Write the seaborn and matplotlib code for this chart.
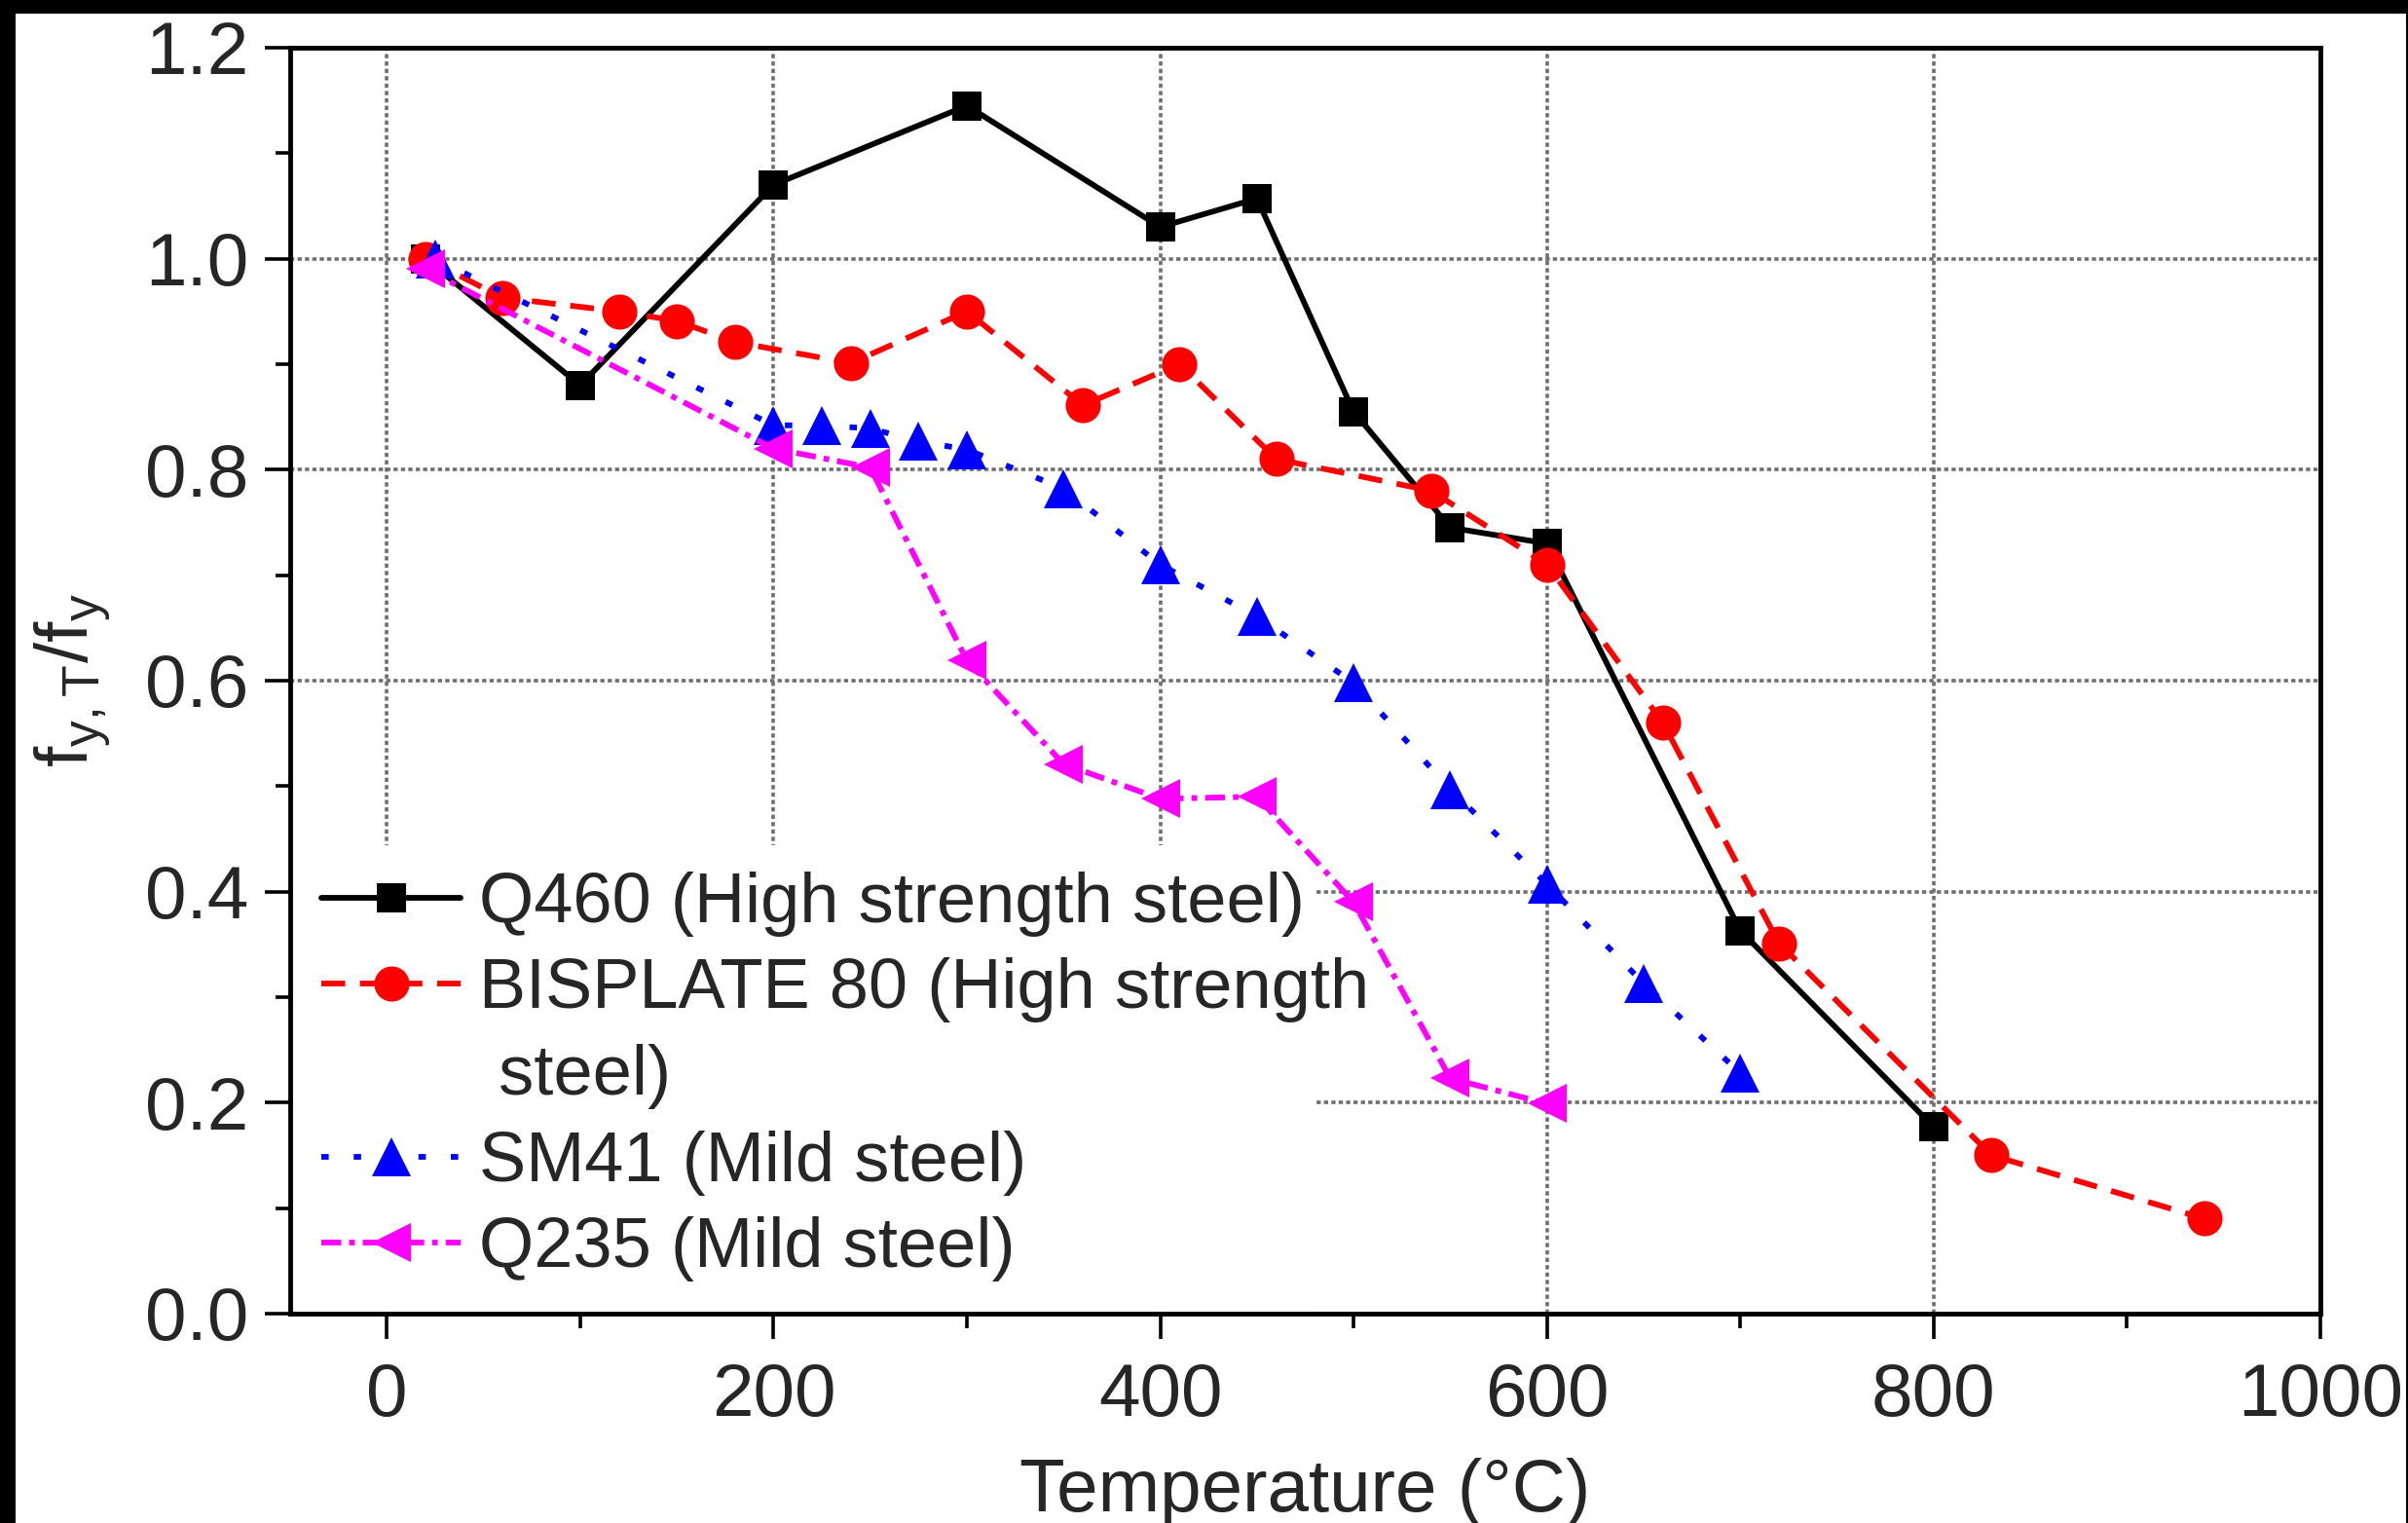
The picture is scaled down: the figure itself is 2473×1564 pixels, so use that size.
import matplotlib
matplotlib.use("Agg")
import matplotlib.pyplot as plt
from matplotlib.patches import Rectangle
from matplotlib.lines import Line2D
from matplotlib.ticker import MultipleLocator, FormatStrFormatter
import seaborn as sns

# Q460 (high strength steel)
temp_q460 = [20, 100, 200, 300, 400, 450, 500, 550, 600, 700, 800]
ratio_q460 = [1.0, 0.88, 1.07, 1.145, 1.03, 1.057, 0.855, 0.745, 0.73, 0.363, 0.177]

# BISPLATE 80 (high strength steel)
temp_bis = [20, 60, 120, 150, 180, 240, 300, 360, 410, 460, 540, 600, 660, 720, 830, 940]
ratio_bis = [1.0, 0.963, 0.95, 0.941, 0.921, 0.901, 0.95, 0.861, 0.90, 0.81, 0.78,
             0.71, 0.56, 0.351, 0.15, 0.09]

# SM41 (mild steel)
temp_sm41 = [25, 200, 225, 250, 275, 300, 350, 400, 450, 500, 550, 600, 650, 700]
ratio_sm41 = [1.0, 0.842, 0.842, 0.839, 0.827, 0.819, 0.782, 0.71, 0.661, 0.598,
              0.497, 0.407, 0.313, 0.228]

# Q235 (mild steel)
temp_q235 = [20, 200, 250, 300, 350, 400, 450, 500, 550, 600]
ratio_q235 = [0.99, 0.82, 0.802, 0.619, 0.521, 0.488, 0.49, 0.39, 0.223, 0.199]

labels = ["Q460 (High strength steel)",
          "BISPLATE 80 (High strength",
          "SM41 (Mild steel)",
          "Q235 (Mild steel)"]
wrap_label = " steel)"

sns.set_style("white")
plt.rcParams["font.family"] = ["Liberation Sans", "DejaVu Sans"]
plt.rcParams["mathtext.fontset"] = "custom"
plt.rcParams["mathtext.rm"] = "Liberation Sans"
plt.rcParams["mathtext.it"] = "Liberation Sans"
plt.rcParams["mathtext.default"] = "regular"

fig, ax = plt.subplots(figsize=(24.73, 15.64), dpi=100)
fig.subplots_adjust(left=0.1205, right=0.9636, bottom=0.1375, top=0.9687)

# black scan border around the picture
fig.patch.set_facecolor("black")
fig.add_artist(Rectangle((16 / 2473, 0), 2455 / 2473, 1550 / 1564,
                         transform=fig.transFigure, facecolor="white",
                         edgecolor="none", zorder=-5))

lw = 4.2
sns.lineplot(x=temp_q460, y=ratio_q460, ax=ax, color="black", marker="s",
             markersize=21, markeredgewidth=0, linewidth=lw, linestyle="-",
             label=labels[0], errorbar=None)
sns.lineplot(x=temp_bis, y=ratio_bis, ax=ax, color="#ff0000", marker="o",
             markersize=26, markeredgewidth=0, linewidth=lw,
             linestyle=(0, (4.2, 2.6)), label=labels[1], errorbar=None)
sns.lineplot(x=temp_sm41, y=ratio_sm41, ax=ax, color="#0000ff", marker="^",
             markersize=29, markeredgewidth=0, linewidth=lw,
             linestyle=(0, (1.3, 4.4)), label=labels[2], errorbar=None)
sns.lineplot(x=temp_q235, y=ratio_q235, ax=ax, color="#ff00ff", marker="<",
             markersize=29, markeredgewidth=0, linewidth=lw,
             linestyle=(0, (3.5, 1.4, 1.0, 1.4)), label=labels[3], errorbar=None)

ax.set_xlim(-50, 1000)
ax.set_ylim(0, 1.2)
ax.xaxis.set_major_locator(MultipleLocator(200))
ax.xaxis.set_minor_locator(MultipleLocator(100))
ax.yaxis.set_major_locator(MultipleLocator(0.2))
ax.yaxis.set_minor_locator(MultipleLocator(0.1))
ax.yaxis.set_major_formatter(FormatStrFormatter("%.1f"))

ax.set_axisbelow(True)
ax.grid(True, which="major", color="#6e6e6e", linewidth=2.6,
        linestyle=(0, (1.2, 0.9)))

for side in ["left", "right", "top", "bottom"]:
    ax.spines[side].set_visible(True)
    ax.spines[side].set_color("black")
    ax.spines[side].set_linewidth(3.5)

ax.tick_params(axis="both", which="major", direction="out", length=19, width=2.6,
               color="black", labelsize=55, bottom=True, left=True,
               top=False, right=False)
ax.tick_params(axis="both", which="minor", direction="out", length=11, width=2.6,
               color="black", bottom=True, left=True, top=False, right=False)
ax.tick_params(axis="x", which="major", pad=17)
ax.tick_params(axis="y", which="major", pad=12)

ax.set_xlabel("Temperature (°C)", fontsize=55)
ax.set_ylabel(r"$f_{y,T}/f_y$", fontsize=55)
ax.xaxis.set_label_coords(0.5, -0.114)
ax.yaxis.set_label_coords(-0.088, 0.5)

# white area behind the legend hides the grid there
ax.add_patch(Rectangle((0, 0), 0.504, 0.37, transform=ax.transAxes,
                       facecolor="white", edgecolor="none", zorder=1.2))

handles, names = ax.get_legend_handles_labels()
handles.insert(2, Line2D([], [], linestyle="none"))
names.insert(2, wrap_label)
leg = ax.legend(handles, names, loc="lower left", fontsize=52, frameon=False,
                handlelength=1.97, handletextpad=0.27, labelspacing=0.3,
                borderpad=0.25, borderaxespad=0.2)
leg.set_zorder(1.5)

fig.savefig("out.png", dpi=100)
